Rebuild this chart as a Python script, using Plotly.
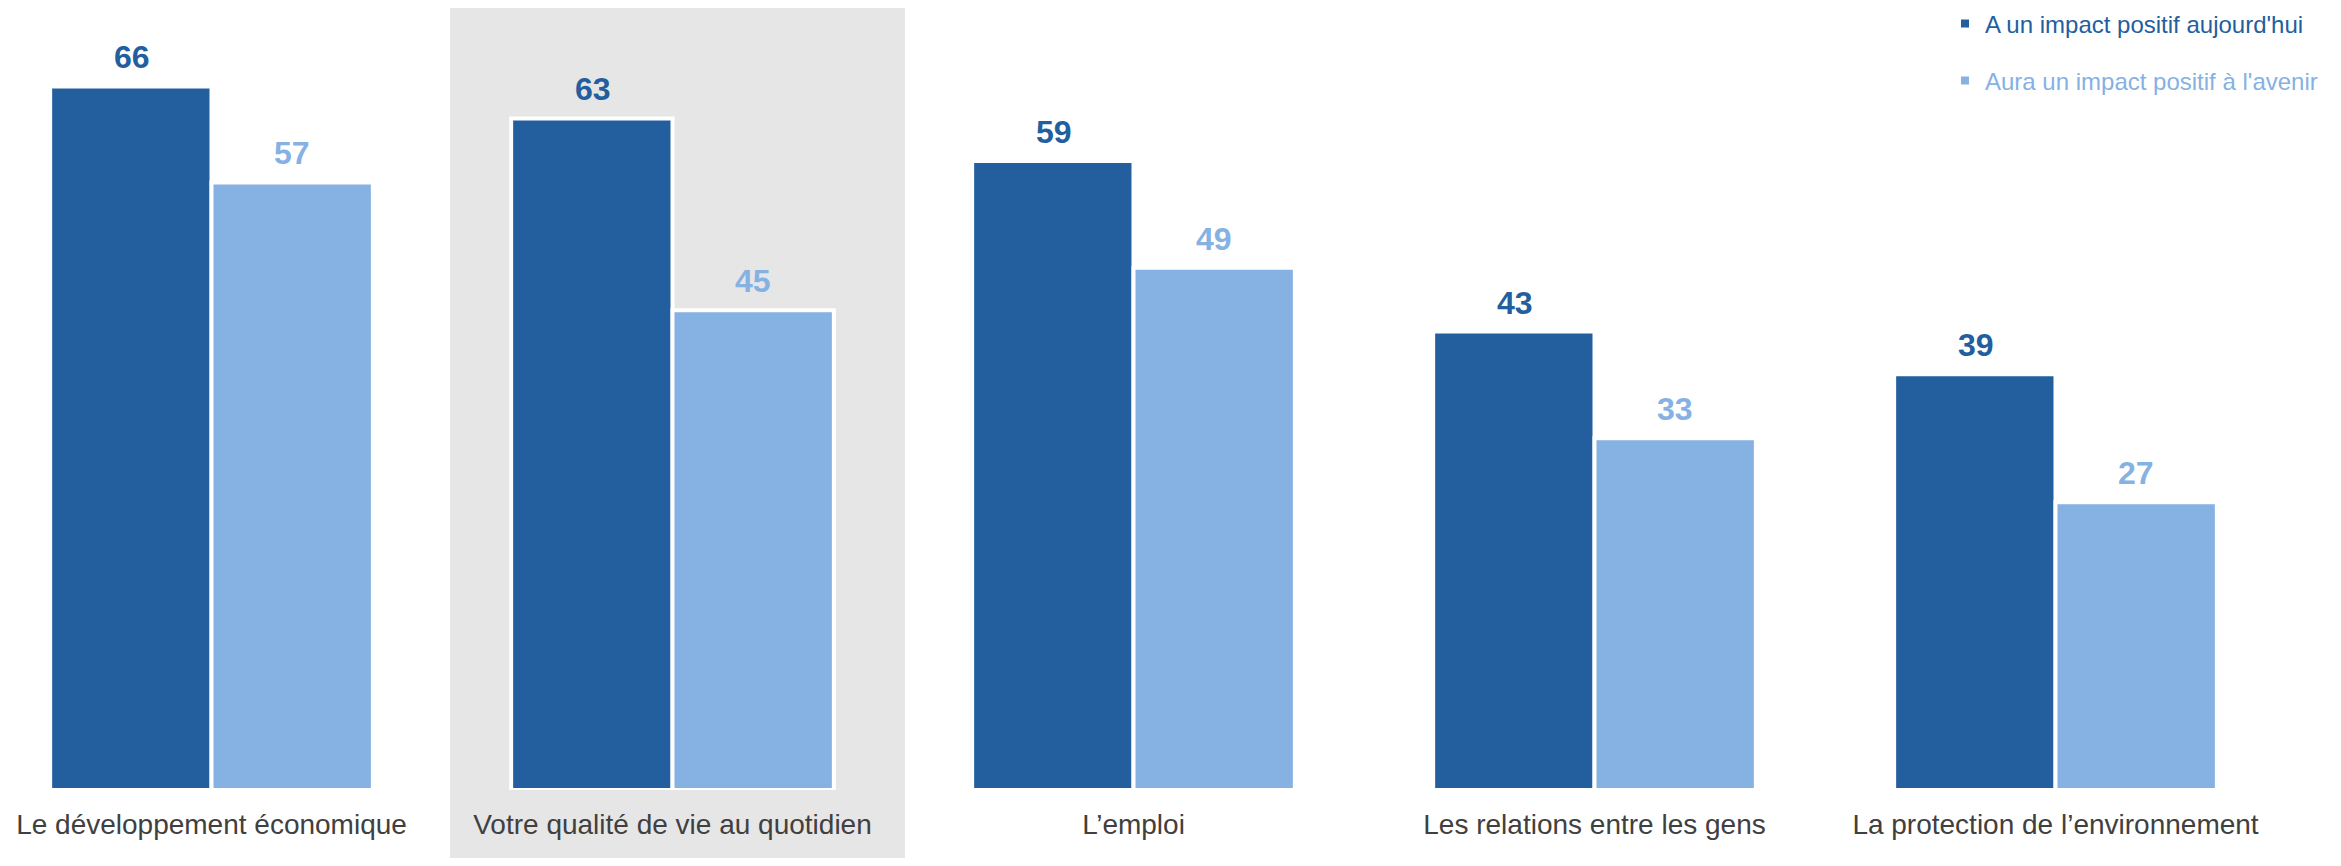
import plotly.graph_objects as go

categories = ["Le développement économique", "Votre qualité de vie au quotidien",
              "L’emploi", "Les relations entre les gens", "La protection de l’environnement"]
today_vals = [66, 63, 59, 43, 39]
future_vals = [57, 45, 49, 33, 27]
series_names = ["A un impact positif aujourd'hui", "Aura un impact positif à l'avenir"]
highlight_index = 1

DARK = "#235E9E"
LIGHT = "#85B1E3"
W, H = 2325, 850
PLOT_H = 782
unit_px = 461.0
center0_px = 203.5
px_per_unit = 10.66

fig = go.Figure()
for vals, col, name, off in [(today_vals, DARK, series_names[0], 0), (future_vals, LIGHT, series_names[1], 1)]:
    fig.add_trace(go.Bar(x=categories, y=vals, marker=dict(color=col, line=dict(color="white", width=4)),
                         showlegend=False, name=name, offsetgroup=str(off)))

# legend entries (small squares)
fig.add_trace(go.Scatter(x=[None], y=[None], mode="markers", name=series_names[0],
                         marker=dict(symbol="square", size=8, color=DARK), legend="legend"))
fig.add_trace(go.Scatter(x=[None], y=[None], mode="markers", name=series_names[1],
                         marker=dict(symbol="square", size=8, color=LIGHT), legend="legend2"))

# value labels
n = len(categories)
for i in range(n):
    for vals, col, shift in [(today_vals, DARK, -1), (future_vals, LIGHT, 1)]:
        fig.add_annotation(x=i, y=vals[i], xref="x", yref="y", text=str(vals[i]),
                           showarrow=False, yanchor="bottom", yshift=9,
                           xshift=shift * 80,
                           font=dict(family="Liberation Sans, Arial", size=32, color=col, weight="bold"))

x_lo = -center0_px / unit_px
x_hi = (W - center0_px) / unit_px

# highlight band behind the selected category
fig.add_shape(type="rect", xref="x", yref="paper",
              x0=highlight_index - 0.4826, x1=highlight_index + 0.5043,
              y0=-(H - PLOT_H) / PLOT_H, y1=1,
              fillcolor="#E6E6E6", line=dict(width=0), layer="below")

fig.update_layout(
    width=W, height=H,
    margin=dict(l=0, r=0, t=0, b=H - PLOT_H, autoexpand=False),
    plot_bgcolor="white", paper_bgcolor="white",
    barmode="group", bargap=0.30, bargroupgap=0,
    font=dict(family="Liberation Sans, Arial"),
    xaxis=dict(range=[x_lo, x_hi], showgrid=False, showline=False, ticks="", zeroline=False,
               tickfont=dict(size=28, color="#404040"), ticklabelstandoff=15),
    yaxis=dict(range=[0, PLOT_H / px_per_unit], visible=False, showgrid=False),
    legend=dict(x=1937 / W, y=1 - 16 / PLOT_H, xanchor="left", yanchor="middle",
                font=dict(size=24, color=DARK), bgcolor="rgba(0,0,0,0)", itemwidth=30),
    legend2=dict(x=1937 / W, y=1 - 73 / PLOT_H, xanchor="left", yanchor="middle",
                 font=dict(size=24, color=LIGHT), bgcolor="rgba(0,0,0,0)", itemwidth=30),
)

fig.write_html("out.html")
